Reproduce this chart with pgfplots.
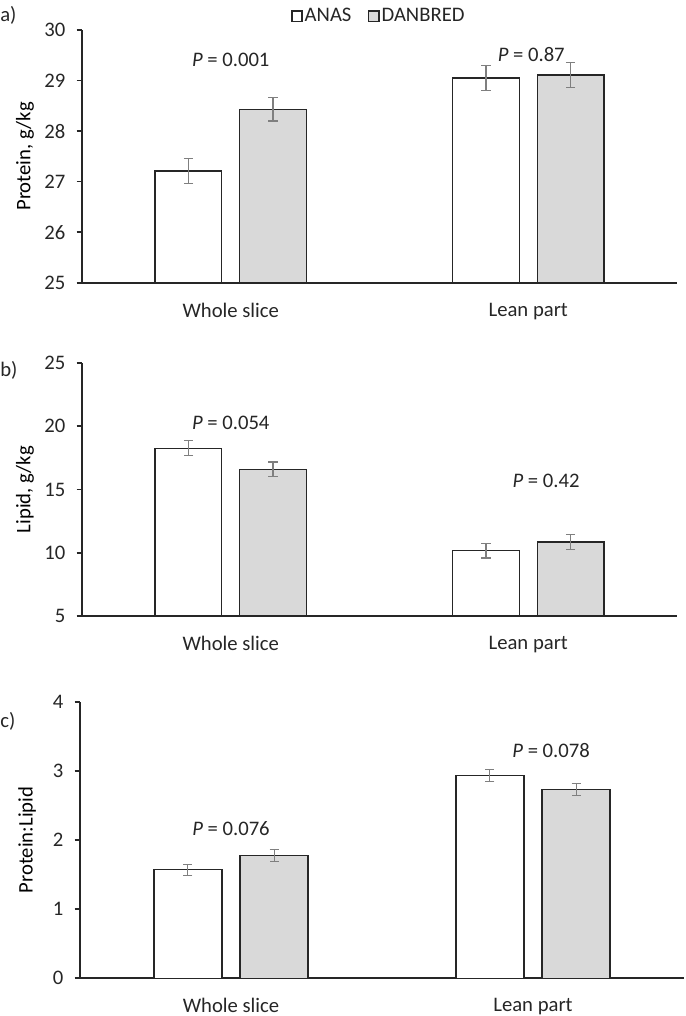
\documentclass[border=0pt]{standalone}
\usepackage{pgfplots}
\pgfplotsset{compat=1.18}
\usepackage{fontspec}
\setmainfont{Carlito}

\definecolor{barline}{HTML}{262626}
\definecolor{danfill}{HTML}{D9D9D9}
\definecolor{errgray}{HTML}{7F7F7F}

\pgfplotsset{
  panel/.style={
    scale only axis,
    font=\fontsize{15.5}{18}\selectfont,
    axis x line*=bottom, axis y line*=left,
    axis line style={-, line width=1.3pt, draw=barline},
    xmin=-0.5, xmax=1.5,
    xtick={0,1}, xticklabels={Whole slice, Lean part},
    xtick style={draw=none},
    ytick style={line width=1.3pt, draw=barline},
    tick align=outside,
    major tick length=4pt,
    /pgf/number format/assume math mode=true,
    tick label style={font=\fontsize{15.5}{18}\selectfont, text=black!85},
    xticklabel style={yshift=-7.5pt},
    yticklabel style={xshift=-5pt},
    label style={font=\fontsize{15.5}{18}\selectfont, text=black!85},
  },
  bars/.style={draw=barline, line width=1.1pt,
    legend image code/.code={\draw[##1, line width=1pt] (0pt,-3.9pt) rectangle (7.6pt,3.9pt);},
    error bars/y dir=both, error bars/y explicit,
    error bars/error bar style={errgray, line width=0.9pt},
    error bars/error mark options={rotate=90, errgray, mark size=3.4pt, line width=0.9pt}},
  anas/.style={bars, fill=white},
  dan/.style={bars, fill=danfill},
}

\begin{document}
\begin{tikzpicture}
\useasboundingbox (0,0) rectangle (513.75pt,-762pt);

% a) protein
\begin{axis}[panel, at={(61.5pt,-212.03pt)}, anchor=south west,
  width=446.25pt, height=189.53pt,
  ybar=13.5pt, bar width=49.9pt,
  ymin=25, ymax=30, ytick={25,26,...,30},
  ylabel={Protein, g/kg},
  every axis y label/.style={at={(axis description cs:-0.0958,0.5)}, rotate=90, anchor=center},
  legend style={at={(rel axis cs:0.499,1.055)}, anchor=center, draw=none, fill=none,
    legend columns=2, font=\fontsize{15.5}{18}\selectfont,
    nodes={inner sep=1.5pt, text=black!85},
    /tikz/every even column/.append style={column sep=11pt}},
  legend cell align=left]
\addplot[anas] coordinates {(0,27.21) +- (0,0.24) (1,29.05) +- (0,0.24)};
\addplot[dan] coordinates {(0,28.43) +- (0,0.23) (1,29.11) +- (0,0.24)};
\legend{ANAS, DANBRED}
\node[text=black!85] at (axis cs:0,29.41) {\textit{P} = 0.001};
\node[text=black!85] at (axis cs:1.01,29.52) {\textit{P} = 0.87};
\end{axis}

% b) lipid
\begin{axis}[panel, at={(61.5pt,-462pt)}, anchor=south west,
  width=446.25pt, height=189.75pt,
  ybar=13.5pt, bar width=49.9pt,
  ymin=5, ymax=25, ytick={5,10,...,25},
  ylabel={Lipid, g/kg},
  every axis y label/.style={at={(axis description cs:-0.0958,0.5)}, rotate=90, anchor=center}]
\addplot[anas] coordinates {(0,18.26) +- (0,0.6) (1,10.17) +- (0,0.58)};
\addplot[dan] coordinates {(0,16.59) +- (0,0.58) (1,10.85) +- (0,0.59)};
\node[text=black!85] at (axis cs:0,20.3) {\textit{P} = 0.054};
\node[text=black!85] at (axis cs:1.06,15.67) {\textit{P} = 0.42};
\end{axis}

% c) protein:lipid
\begin{axis}[panel, at={(60pt,-733.73pt)}, anchor=south west,
  width=453pt, height=207.45pt,
  ybar=13.8pt, bar width=51pt,
  ymin=0, ymax=4, ytick={0,1,...,4},
  ylabel={Protein:Lipid},
  every axis y label/.style={at={(axis description cs:-0.0877,0.5)}, rotate=90, anchor=center}]
\addplot[anas] coordinates {(0,1.57) +- (0,0.08) (1,2.93) +- (0,0.085)};
\addplot[dan] coordinates {(0,1.78) +- (0,0.085) (1,2.73) +- (0,0.085)};
\node[text=black!85] at (axis cs:0,2.17) {\textit{P} = 0.076};
\node[text=black!85] at (axis cs:1.06,3.30) {\textit{P} = 0.078};
\end{axis}

\node[anchor=west, inner sep=0pt, font=\fontsize{15.5}{18}\selectfont, text=black!85] at (0pt,-11.25pt) {a)};
\node[anchor=west, inner sep=0pt, font=\fontsize{15.5}{18}\selectfont, text=black!85] at (0pt,-277.5pt) {b)};
\node[anchor=west, inner sep=0pt, font=\fontsize{15.5}{18}\selectfont, text=black!85] at (0pt,-541.1pt) {c)};
\end{tikzpicture}
\end{document}
